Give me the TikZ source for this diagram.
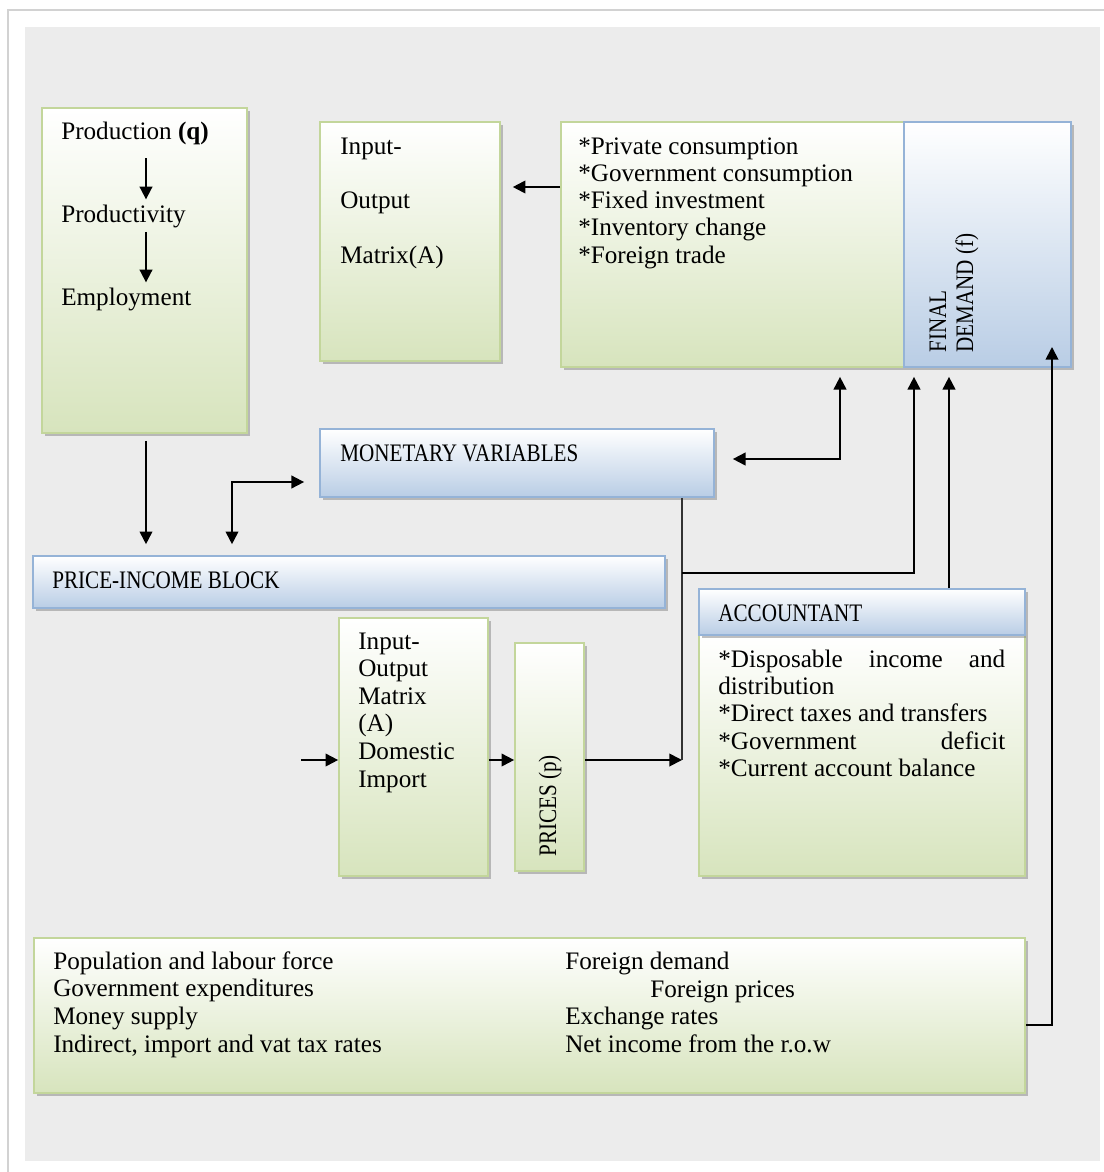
\documentclass[tikz,border=0pt]{standalone}
\usepackage{fontspec}
\setmainfont{Liberation Serif}
\usepackage{graphicx}
\usetikzlibrary{arrows.meta,shadows,fit}
\definecolor{greenfill}{RGB}{215,228,189}
\definecolor{greenline}{RGB}{195,214,155}
\definecolor{bluefill}{RGB}{185,205,229}
\definecolor{blueline}{RGB}{149,179,215}
\definecolor{panelgrey}{RGB}{236,236,236}
\definecolor{rimgrey}{RGB}{210,210,210}
\newcommand{\narrowcaps}[1]{\scalebox{0.84}[1]{#1}}

\begin{document}
\begin{tikzpicture}[x=0.025cm,y=-0.025cm,
  gbox/.style={draw=greenline,line width=1.2pt,top color=white,bottom color=greenfill,inner sep=0pt,
    drop shadow={shadow xshift=1.8pt,shadow yshift=-1.8pt,fill=black!45,opacity=0.55}},
  bbox/.style={draw=blueline,line width=1.2pt,top color=white,bottom color=bluefill,inner sep=0pt,
    drop shadow={shadow xshift=1.8pt,shadow yshift=-1.8pt,fill=black!45,opacity=0.55}},
  txt/.style={anchor=base west,inner sep=0pt,font=\fontsize{17.9}{19.4}\selectfont},
  arr/.style={line width=1.3pt,-{Triangle[length=9pt,width=9pt]}},
  dbl/.style={line width=1.3pt,{Triangle[length=9pt,width=9pt]}-{Triangle[length=9pt,width=9pt]}},
  link/.style={line width=1pt,black!80}]
\useasboundingbox (0,0) rectangle (1104,1172);
\fill[white] (0,0) rectangle (1104,1172);
\draw[rimgrey,line width=0.8pt] (8,1172) -- (8,10) -- (1104,10);
\fill[panelgrey] (25,27) rectangle (1100,1161);

% boxes
\node[gbox,fit={(42,108) (247,433)}] (prod) {};
\node[gbox,fit={(320,122) (500,361)}] (iomat) {};
\node[gbox,fit={(561,122) (904,367)}] (fdlist) {};
\node[bbox,fit={(904,122) (1071,367)}] (fdem) {};
\node[bbox,fit={(320,429) (714,497)}] (monvar) {};
\node[bbox,fit={(33,556) (665,608)}] (priceinc) {};
\node[gbox,fit={(339,618) (488,876)}] (iodom) {};
\node[gbox,fit={(515,643) (584,871)}] (prices) {};
\node[gbox,fit={(699,635) (1025,876)}] (accbody) {};
\node[bbox,fit={(699,589) (1025,635)}] (acchead) {};
\node[gbox,fit={(34,938) (1025,1093)}] (exog) {};

% texts
\node[txt] (q0) at (61,139) {Production \textbf{(q)}};
\node[txt] (q1) at (61,222) {Productivity};
\node[txt] (q2) at (61,305) {Employment};

\node[txt] (io0) at (340,154) {Input-};
\node[txt] (io1) at (340,208) {Output};
\node[txt] (io2) at (340,263) {Matrix(A)};

\foreach \t [count=\i from 0] in {*Private consumption,*Government consumption,*Fixed investment,*Inventory change,*Foreign trade}
  \node[txt] (fd\i) at (578,154+27.3*\i) {\t};

\node[txt,rotate=90] (fdt0) at (946,353) {\narrowcaps{FINAL}};
\node[txt,rotate=90] (fdt1) at (973,353) {\narrowcaps{DEMAND (f)}};

\node[txt] (mv) at (340,461) {\narrowcaps{MONETARY VARIABLES}};
\node[txt] (pib) at (52,588) {\narrowcaps{PRICE-INCOME BLOCK}};

\foreach \t [count=\i from 0] in {Input-,Output,Matrix,(A),Domestic,Import}
  \node[txt] (dm\i) at (358,649+27.6*\i) {\t};

\node[txt,rotate=90] (pp) at (556,857) {\narrowcaps{PRICES (p)}};

\node[txt] (acc) at (718,621) {\narrowcaps{ACCOUNTANT}};
\node[txt,text width=287*0.025cm] (ac0) at (718,667) {*Disposable\hfill income\hfill and};
\node[txt] (ac1) at (718,694) {distribution};
\node[txt] (ac2) at (718,721) {*Direct taxes and transfers};
\node[txt,text width=287*0.025cm] (ac3) at (718,749) {*Government\hfill deficit};
\node[txt] (ac4) at (718,776) {*Current account balance};

\foreach \t [count=\i from 0] in {Population and labour force,Government expenditures,Money supply,{Indirect, import and vat tax rates}}
  \node[txt] (ex\i) at (53,969+27.7*\i) {\t};
\node[txt] (ey0) at (565,969) {Foreign demand};
\node[txt] (ey1) at (650,997) {Foreign prices};
\node[txt] (ey2) at (565,1024) {Exchange rates};
\node[txt] (ey3) at (565,1052) {Net income from the r.o.w};

% connectors
\coordinate (c0) at (146,0);
\draw[arr,shorten <=9.5pt,shorten >=3.5pt] (q0.south -| c0) -- (q1.north -| c0);
\draw[arr,shorten <=3pt,shorten >=3.5pt] (q1.south -| c0) -- (q2.north -| c0);
\draw[arr,shorten <=5pt,shorten >=7.8pt] (prod.south -| c0) -- (priceinc.north -| c0);

\coordinate (c1) at (232,482);
\draw[dbl,shorten <=7.8pt,shorten >=10.7pt] (priceinc.north -| c1) -- (c1) -- (monvar.west |- c1);

\coordinate (c2) at (530,187);
\draw[arr,shorten >=8.5pt] (fdlist.west |- c2) -- (iomat.east |- c2);

\coordinate (c3) at (840,459);
\draw[dbl,shorten <=12.8pt,shorten >=6.4pt] (monvar.east |- c3) -- (c3) -- (fdlist.south -| c3);

\coordinate (c4) at (301,760);
\draw[arr] (c4) -- (iodom.west |- c4);
\draw[arr] (iodom.east |- c4) -- (prices.west |- c4);
\coordinate (c5) at (682,760);
\draw[arr] (prices.east |- c5) -- (c5);
\draw[link] (monvar.south -| c5) -- (c5);

\coordinate (c6) at (682,573);
\coordinate (c7) at (914,573);
\draw[arr,shorten >=6.4pt] (c6) -- (c7) -- (fdem.south -| c7);

\coordinate (c8) at (949,480);
\draw[arr,shorten >=6.4pt] (acchead.north -| c8) -- (fdem.south -| c8);

\coordinate (c9) at (1052,1025);
\coordinate (c10) at (1052,347);
\draw[arr] (exog.east |- c9) -- (c9) -- (c10);
\end{tikzpicture}
\end{document}
